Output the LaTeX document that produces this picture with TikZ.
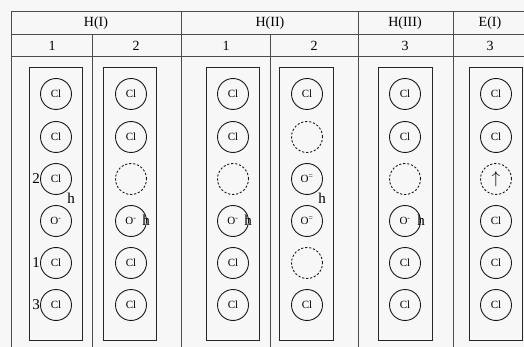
\documentclass[tikz,border=0pt]{standalone}
\usepackage{fontspec}
\setmainfont{Liberation Serif}
\begin{document}
\begin{tikzpicture}[x=1pt,y=-1pt,
  grid/.style={draw=black!70,line width=0.9pt},
  box/.style={draw=black!85,line width=1pt},
  atom/.style={circle,draw=black!90,line width=0.9pt,minimum size=31pt,inner sep=0pt,font=\fontsize{11}{11}\selectfont},
  vac/.style={atom,dashed,dash pattern=on 2.2pt off 1.8pt},
  hdr/.style={font=\fontsize{14}{14}\selectfont},
  lbl/.style={font=\fontsize{15}{15}\selectfont,inner sep=0pt}]
\fill[white!97!black] (0,0) rectangle (524,347);
\useasboundingbox (0,0) rectangle (524,347);
% table lines
\draw[grid] (11,347) -- (11,11) -- (524,11);
\draw[grid] (11,34) -- (524,34);
\draw[grid] (11,56) -- (524,56);
\foreach \x in {181,358,453} \draw[grid] (\x,11) -- (\x,347);
\foreach \x in {92,270} \draw[grid] (\x,34) -- (\x,347);
% headers
\node[hdr] (hI) at (96,23) {H(I)};
\node[hdr] (hII) at (270,23) {H(II)};
\node[hdr] (hIII) at (405,23) {H(III)};
\node[hdr] (eI) at (490,23) {E(I)};
\node[hdr] (c1) at (52,45.5) {1};
\node[hdr] (c2) at (136,45.5) {2};
\node[hdr] (c3) at (226,45.5) {1};
\node[hdr] (c4) at (314,45.5) {2};
\node[hdr] (c5) at (405,45.5) {3};
\node[hdr] (c6) at (490,45.5) {3};
% boxes
\foreach \a/\b in {29/82,103/156,206/259,279/333,378/432,469/522}
  \draw[box] (\a,68) rectangle (\b,340);
% column 1
\node[atom] (a11) at (56,94) {Cl};
\node[atom] (a12) at (56,137) {Cl};
\node[atom] (a13) at (56,179) {Cl};
\node[atom] (a14) at (56,221) {O\textsuperscript{-}};
\node[atom] (a15) at (56,263) {Cl};
\node[atom] (a16) at (56,305) {Cl};
\node[lbl,anchor=east] (n2) at (a13.west) {2};
\node[lbl,anchor=east] (n1) at (a15.west) {1};
\node[lbl,anchor=east] (n3) at (a16.west) {3};
\node[lbl] (h1) at (71,198) {h};
% column 2
\node[atom] (a21) at (131,94) {Cl};
\node[atom] (a22) at (131,137) {Cl};
\node[vac] (a23) at (131,179) {};
\node[atom] (a24) at (131,221) {O\textsuperscript{-}};
\node[atom] (a25) at (131,263) {Cl};
\node[atom] (a26) at (131,305) {Cl};
\node[lbl] (h2) at (146,220) {h};
% column 3
\node[atom] (a31) at (233,94) {Cl};
\node[atom] (a32) at (233,137) {Cl};
\node[vac] (a33) at (233,179) {};
\node[atom] (a34) at (233,221) {O\textsuperscript{-}};
\node[atom] (a35) at (233,263) {Cl};
\node[atom] (a36) at (233,305) {Cl};
\node[lbl] (h3) at (248,220) {h};
% column 4
\node[atom] (a41) at (307,94) {Cl};
\node[vac] (a42) at (307,137) {};
\node[atom] (a43) at (307,179) {O\textsuperscript{=}};
\node[atom] (a44) at (307,221) {O\textsuperscript{=}};
\node[vac] (a45) at (307,263) {};
\node[atom] (a46) at (307,305) {Cl};
\node[lbl] (h4) at (322,198) {h};
% column 5
\node[atom] (a51) at (405,94) {Cl};
\node[atom] (a52) at (405,137) {Cl};
\node[vac] (a53) at (405,179) {};
\node[atom] (a54) at (405,221) {O\textsuperscript{-}};
\node[atom] (a55) at (405,263) {Cl};
\node[atom] (a56) at (405,305) {Cl};
\node[lbl] (h5) at (421,220) {h};
% column 6
\node[atom] (a61) at (496,94) {Cl};
\node[atom] (a62) at (496,137) {Cl};
\node[vac,font=\fontsize{16}{16}\selectfont] (a63) at (496,179) {$\uparrow$};
\node[atom] (a64) at (496,221) {Cl};
\node[atom] (a65) at (496,263) {Cl};
\node[atom] (a66) at (496,305) {Cl};
\end{tikzpicture}
\end{document}
